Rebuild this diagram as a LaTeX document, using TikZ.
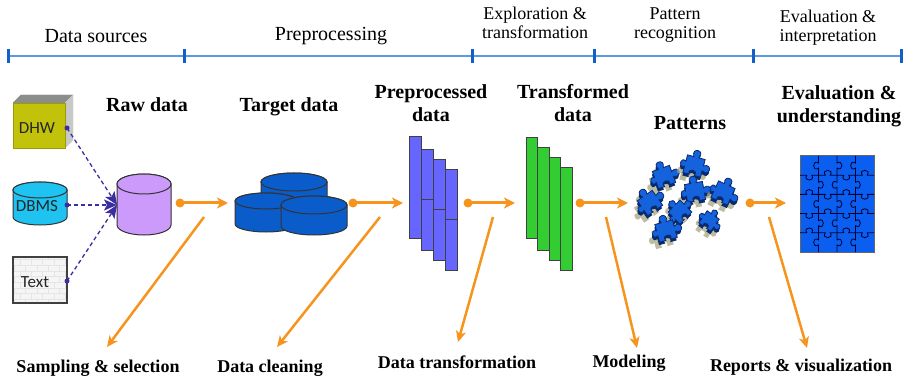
\documentclass[tikz,border=0pt]{standalone}
\usepackage{fontspec}
\setmainfont{Liberation Serif}
\newfontfamily\srcfont{Carlito}
\usetikzlibrary{arrows.meta,patterns}

\definecolor{tlline}{HTML}{5B9BE0}
\definecolor{tltick}{HTML}{1060C8}
\definecolor{flowor}{HTML}{F7941E}
\definecolor{dashblue}{HTML}{3B2E9E}
\definecolor{dhwface}{HTML}{C2C20A}
\definecolor{dhwtop}{HTML}{8C8C8C}
\definecolor{dhwside}{HTML}{C8C8C8}
\definecolor{dbmscyan}{HTML}{1EC3F2}
\definecolor{rawlav}{HTML}{CC9AFA}
\definecolor{tgtblue}{HTML}{0B5CCB}
\definecolor{prebar}{HTML}{6666FF}
\definecolor{trbar}{HTML}{33CC33}
\definecolor{piecebl}{HTML}{1463DC}
\definecolor{piecedk}{HTML}{0A2A70}
\definecolor{shadowol}{HTML}{A8A682}
\definecolor{evalbl}{HTML}{0A5EF0}

% cylinder: centre x, top-ellipse centre y, half width, body height, y radius, style
\newcommand\cylshape[6]{%
  \filldraw[#6] (#1-#3,#2) -- (#1-#3,#2+#4)
    arc[start angle=180,end angle=0,x radius=#3,y radius=#5]
    -- (#1+#3,#2)
    arc[start angle=0,end angle=-180,x radius=#3,y radius=#5] -- cycle;
  \filldraw[#6] (#1,#2) ellipse[x radius=#3,y radius=#5];}

\begin{document}
\begin{tikzpicture}[x=1pt,y=-1pt,
  hdr/.style={font=\fontsize{20}{22}\selectfont, inner sep=0pt},
  hdrtwo/.style={font=\fontsize{18}{19}\selectfont, align=center, inner sep=0pt},
  stage/.style={font=\bfseries\fontsize{20}{23}\selectfont, align=center, inner sep=0pt},
  action/.style={font=\bfseries\fontsize{18}{20}\selectfont, inner sep=0pt},
  srclabel/.style={font=\srcfont\fontsize{17}{19}\selectfont, text=black!85, inner sep=0pt},
  tickmark/.style={fill=tltick, minimum width=3pt, minimum height=14pt, inner sep=0pt},
  flowdot/.style={circle, fill=flowor, minimum size=9pt, inner sep=0pt},
  srcdot/.style={circle, fill=dashblue, minimum size=5pt, inner sep=0pt},
  flow/.style={draw=flowor, line width=3pt, -{Stealth[length=11pt,width=11pt,inset=3pt]}},
  diag/.style={draw=flowor, line width=2.5pt, -{Stealth[length=11pt,width=10pt,inset=3pt]}},
  srcflow/.style={draw=dashblue, line width=1.3pt, dash pattern=on 4pt off 3pt,
    -{Stealth[length=13pt,width=11pt,inset=3pt]}},
  prebox/.style={rectangle, fill=prebar, draw=black!75, line width=1pt, minimum width=12pt, inner sep=0pt},
  trbox/.style={rectangle, fill=trbar, draw=black!75, line width=1pt, minimum width=11.5pt, inner sep=0pt},
  cylline/.style={draw=black!80, line width=1pt},
  piecestyle/.style={fill=piecebl, draw=piecedk, line width=0.8pt,
    preaction={fill=shadowol, opacity=0.75, transform canvas={xshift=-3.5pt,yshift=-7pt}},
    preaction={fill=piecedk, transform canvas={xshift=-0.5pt,yshift=-3pt}}},
  piece/.pic={
    \path[piecestyle] (-7,-7) -- (-2,-7) .. controls (-6,-14) and (6,-14) .. (2,-7)
      -- (7,-7) -- (7,-2) .. controls (14,-6) and (14,6) .. (7,2)
      -- (7,7) -- (2,7) .. controls (5,2) and (-5,2) .. (-2,7)
      -- (-7,7) -- (-7,2) .. controls (-12,5) and (-12,-5) .. (-7,-2) -- cycle;},
  puzline/.style={draw=black!80!blue, line width=0.8pt}
]
\useasboundingbox[fill=white] (0,0) rectangle (910,382);

% ---- phase timeline ----
\coordinate (t0) at (8,56);
\coordinate (t1) at (184,56);
\coordinate (t2) at (472,56);
\coordinate (t3) at (594,56);
\coordinate (t4) at (753,56);
\coordinate (t5) at (901,56);
\draw[tlline, line width=1.6pt] (t0) -- (t5);
\foreach \i in {0,...,5} \node[tickmark] (k\i) at (t\i) {};

\node[hdr] (h1) at (96,36) {Data sources};
\node[hdr] (h2) at (331,36) {Preprocessing};
\node[hdrtwo] (h3) at (535,23) {Exploration \&\\transformation};
\node[hdrtwo] (h4) at (675,25) {Pattern\\recognition};
\node[hdrtwo] (h5) at (828,28) {Evaluation \&\\interpretation};

% ---- data sources ----
\filldraw[fill=dhwtop, draw=dhwtop] (13,103) -- (21,95) -- (73,95) -- (65,103) -- cycle;
\filldraw[fill=dhwside, draw=dhwside] (65,103) -- (73,95) -- (73,140) -- (65,148) -- cycle;
\filldraw[fill=dhwface, draw=dhwface!80!black, line width=0.6pt] (13,103) rectangle (65,148);
\node[srclabel] (dhw) at (37,128) {DHW};

\cylshape{40}{190}{27}{27}{8}{fill=dbmscyan, cylline}
\node[srclabel] (dbms) at (37,206) {DBMS};

\fill[black!4] (13,257) rectangle (67,303);
\fill[pattern=bricks, pattern color=black!10] (13,257) rectangle (67,303);
\draw[black!75, line width=1.2pt] (13,257) rectangle (67,303);
\node[srclabel] (txt) at (35,282) {Text};

\node[srcdot] (sd1) at (67,128) {};
\node[srcdot] (sd2) at (67,205) {};
\node[srcdot] (sd3) at (67,281) {};
\coordinate (rawin) at (117,205);
\draw[srcflow] (sd1.center) -- (rawin);
\draw[srcflow] (sd2.center) -- (rawin);
\draw[srcflow] (sd3.center) -- (rawin);

% ---- raw data ----
\cylshape{144}{184}{27}{41}{10}{fill=rawlav, cylline}
\node[stage] (raw) at (147,105) {Raw data};

% ---- target data ----
\cylshape{294}{182}{33}{22}{9}{fill=tgtblue, cylline}
\cylshape{266}{201}{31}{23}{8}{fill=tgtblue, cylline}
\cylshape{314}{205}{33}{21}{9}{fill=tgtblue, cylline}
\node[stage] (target) at (289,107) {Target data};

% ---- preprocessed data ----
\node[prebox, minimum height=101pt] (p1) at (415,187.5) {};
\node[prebox, minimum height=100pt] (p2) at (427,200) {};
\node[prebox, minimum height=100pt] (p3) at (439,210) {};
\node[prebox, minimum height=100pt] (p4) at (451,220) {};
\foreach \b in {p2,p3,p4} \draw[black!75, line width=1pt] (\b.west) -- (\b.east);
\node[stage] (pre) at (431,103) {Preprocessed\\data};

% ---- transformed data ----
\node[trbox, minimum height=100pt] (g1) at (532,188) {};
\node[trbox, minimum height=102pt] (g2) at (543.5,199) {};
\node[trbox, minimum height=102pt] (g3) at (555,209) {};
\node[trbox, minimum height=102pt] (g4) at (566.5,219) {};
\node[stage] (trans) at (573,103) {Transformed\\data};

% ---- patterns ----
\pic[rotate=20, scale=1.3] (pc1) at (664,177) {piece};
\pic[rotate=-15, scale=1.3] (pc2) at (694,166) {piece};
\pic[rotate=35, scale=1.3] (pc3) at (650,203) {piece};
\pic[rotate=10, scale=1.3] (pc4) at (695,192) {piece};
\pic[rotate=-25, scale=1.3] (pc5) at (723,193) {piece};
\pic[rotate=45, scale=1.2] (pc6) at (680,212) {piece};
\pic[rotate=15, scale=1.3] (pc7) at (666,231) {piece};
\pic[rotate=-35, scale=1.05] (pc8) at (709,221) {piece};
\node[stage] (pat) at (690,123) {Patterns};

% ---- evaluation puzzle ----
\node[rectangle, fill=evalbl, draw=black!60, line width=1pt, minimum width=74pt,
  minimum height=96pt, inner sep=0pt] (evalbox) at (837,204) {};
\foreach \k in {1,2,3} \foreach \j in {0,...,4} {
  \pgfmathsetmacro\xx{800+18.5*\k}
  \pgfmathsetmacro\ya{156+19.2*\j}
  \pgfmathsetmacro\ym{\ya+9.6}
  \pgfmathsetmacro\yb{\ya+19.2}
  \pgfmathsetmacro\xc{\xx+ifthenelse(mod(\j+\k,2)==0,1,-1)*6.5}
  \draw[puzline] (\xx,\ya) -- (\xx,\ym-2.5) .. controls (\xc,\ym-7) and (\xc,\ym+7) .. (\xx,\ym+2.5) -- (\xx,\yb);
}
\foreach \j in {1,2,3,4} \foreach \k in {0,...,3} {
  \pgfmathsetmacro\yy{156+19.2*\j}
  \pgfmathsetmacro\xa{800+18.5*\k}
  \pgfmathsetmacro\xm{\xa+9.25}
  \pgfmathsetmacro\xb{\xa+18.5}
  \pgfmathsetmacro\yc{\yy+ifthenelse(mod(\j+\k,2)==0,-1,1)*6.5}
  \draw[puzline] (\xa,\yy) -- (\xm-2.5,\yy) .. controls (\xm-7,\yc) and (\xm+7,\yc) .. (\xm+2.5,\yy) -- (\xb,\yy);
}
\node[stage] (evalu) at (839,106) {Evaluation \&\\understanding};

% ---- flow arrows between stages ----
\node[flowdot] (d1) at (180,203) {};
\node[flowdot] (d2) at (353,203) {};
\node[flowdot] (d3) at (468,203) {};
\node[flowdot] (d4) at (580,203) {};
\node[flowdot] (d5) at (750,203) {};
\coordinate (e1) at (228,203);
\coordinate (e2) at (403,203);
\coordinate (e3) at (515,203);
\coordinate (e4) at (628,203);
\coordinate (e5) at (786,203);
\foreach \i in {1,...,5} \draw[flow] (d\i.center) -- (e\i);

% ---- step arrows down to step labels ----
\coordinate (s1) at (204,217);  \coordinate (u1) at (107,347);
\coordinate (s2) at (380,217);  \coordinate (u2) at (277,347);
\coordinate (s3) at (493,217);  \coordinate (u3) at (458,342);
\coordinate (s4) at (606,217);  \coordinate (u4) at (637,348);
\coordinate (s5) at (769,217);  \coordinate (u5) at (807,348);
\foreach \i in {1,...,5} \draw[diag] (s\i) -- (u\i);

\node[action] (a1) at (98,368) {Sampling \& selection};
\node[action] (a2) at (270,368) {Data cleaning};
\node[action] (a3) at (457,362) {Data transformation};
\node[action] (a4) at (629,363) {Modeling};
\node[action] (a5) at (801,367) {Reports \& visualization};
\end{tikzpicture}
\end{document}
